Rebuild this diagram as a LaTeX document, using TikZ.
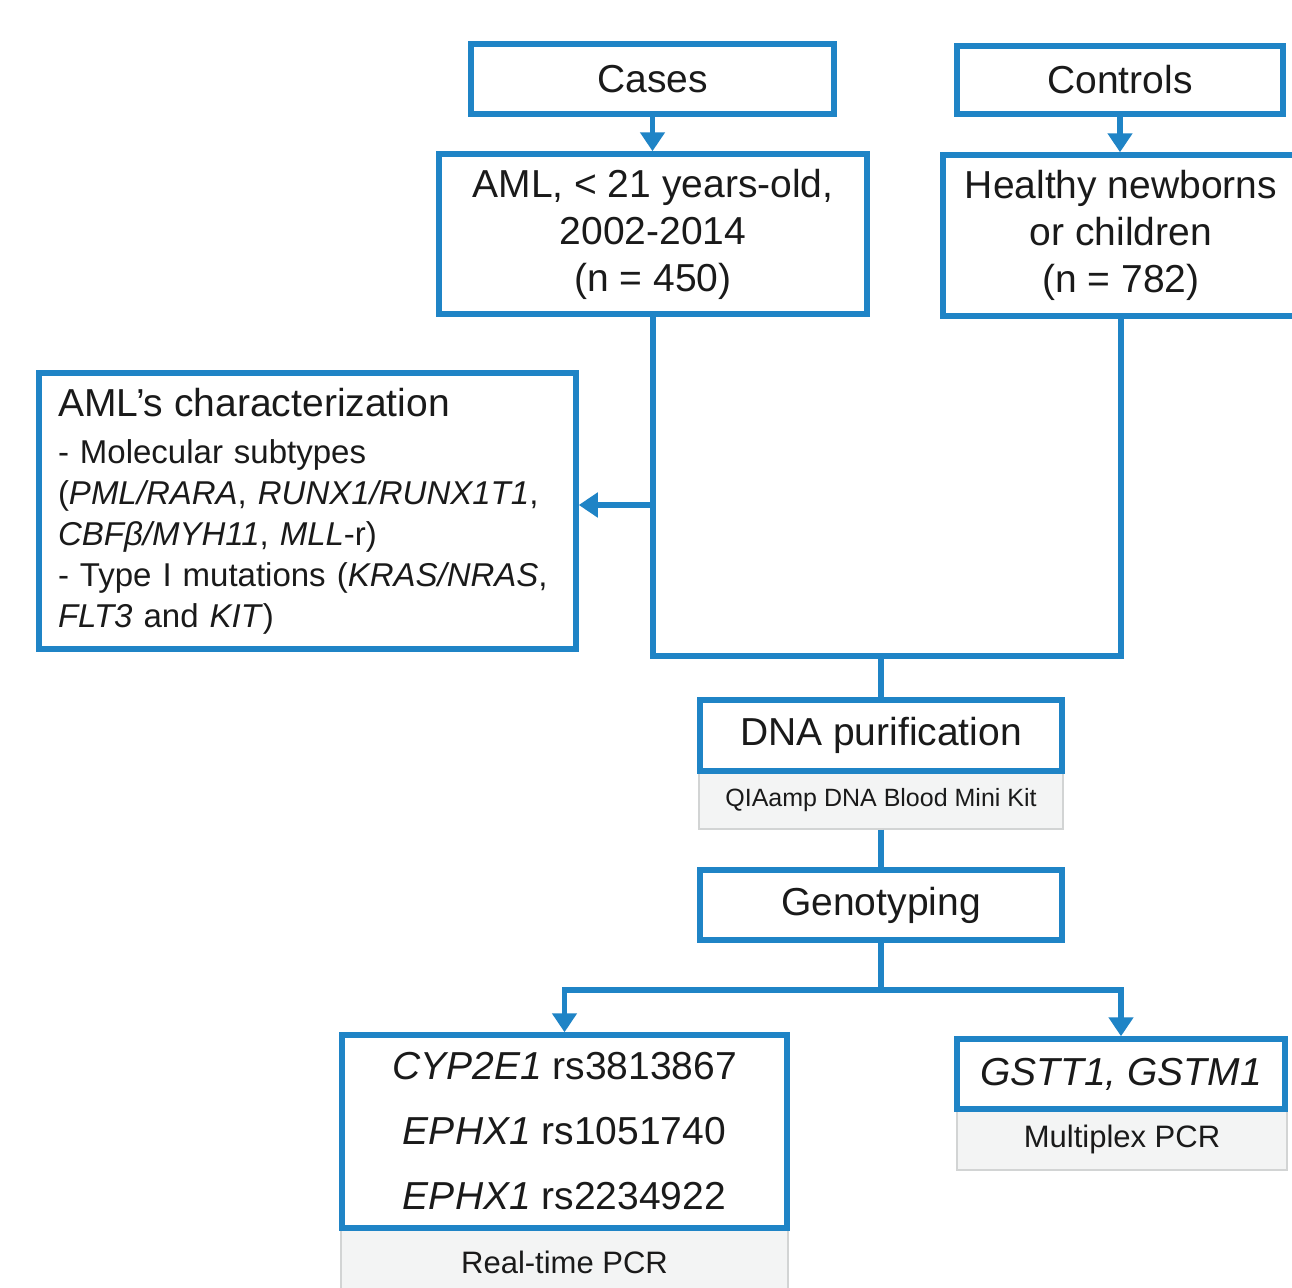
\documentclass[tikz,border=0pt]{standalone}
\usepackage{fontspec}
\setmainfont{Liberation Sans}
\usetikzlibrary{arrows.meta,calc}
\definecolor{blu}{HTML}{1F84C6}
\definecolor{subfill}{HTML}{F3F4F4}
\definecolor{subdraw}{HTML}{D2D4D4}
\definecolor{txt}{HTML}{1A1A1A}
\begin{document}
\begin{tikzpicture}[x=1pt,y=-1pt,
  box/.style={draw=blu, line width=5.5pt, fill=white, inner sep=0pt, align=center, text=txt, font=\fontsize{39}{47}\selectfont},
  sub/.style={draw=subdraw, line width=1.2pt, fill=subfill, inner sep=0pt, text=txt},
  conn/.style={draw=blu, line width=5.5pt},
  arr/.style={conn, -{Triangle[width=24pt,length=19pt]}}]
\fill[white] (0,0) rectangle (1292,1287);
\useasboundingbox (0,0) rectangle (1292,1287);

% grey sub boxes
\node[sub, minimum width=364pt, minimum height=58pt, font=\fontsize{25}{30}\selectfont] (dnasub) at (881,800) {QIAamp DNA Blood Mini Kit};
\node[sub, minimum width=447pt, minimum height=68pt, font=\fontsize{31}{37}\selectfont] (cypsub) at (564.5,1262) {Real-time PCR};
\node[sub, minimum width=330pt, minimum height=61pt, font=\fontsize{31}{37}\selectfont] (gstsub) at (1122,1139.5) {Multiplex PCR};

% main boxes
\node[box, minimum width=363pt, minimum height=70pt] (cases) at (652.5,79) {Cases};
\node[box, minimum width=326pt, minimum height=68pt] (controls) at (1120,80) {Controls};
\node[box, minimum width=428pt, minimum height=160pt] (aml) at (653,234) {AML, < 21 years-old,\\2002-2014\\(n = 450)};
\node[box, minimum width=356pt, minimum height=161pt] (healthy) at (1121,235.5) {Healthy newborns\\or children\\(n = 782)};
\node[box, minimum width=537pt, minimum height=276pt, text width=499pt, inner xsep=19pt, align=left, font=\fontsize{33}{41}\selectfont] (char) at (307.5,511)
  {{\fontsize{39}{41}\selectfont AML's characterization}\\[6pt]
   - Molecular subtypes\\
   (\textit{PML/RARA}, \textit{RUNX1/RUNX1T1},\\
   \textit{CBFβ/MYH11}, \textit{MLL}-r)\\
   - Type I mutations (\textit{KRAS/NRAS},\\
   \textit{FLT3} and \textit{KIT})};
\node[box, minimum width=362pt, minimum height=71pt] (dna) at (881,735.5) {DNA purification};
\node[box, minimum width=362pt, minimum height=70pt] (geno) at (881,905) {Genotyping};
\node[box, minimum width=445pt, minimum height=193pt, font=\fontsize{39}{65}\selectfont] (cyp) at (564.5,1131.5)
  {\textit{CYP2E1} rs3813867\\\textit{EPHX1} rs1051740\\\textit{EPHX1} rs2234922};
\node[box, minimum width=328pt, minimum height=70pt] (gst) at (1121,1074) {\textit{GSTT1, GSTM1}};

% connectors
\coordinate (j1) at (881,656);
\coordinate (j2) at (881,990);
\coordinate (lvl) at (0,505);
\draw[arr] (cases.south) -- (cases.south |- aml.north);
\draw[arr] (controls.south) -- (controls.south |- healthy.north);
\draw[conn] (aml.south) |- (j1) -| (healthy.south);
\draw[arr] (aml.south |- lvl) -- (char.east |- lvl);
\draw[conn] (j1) -- (j1 |- dna.north);
\draw[conn] (dnasub.south) -- (geno.north);
\draw[conn] (geno.south) -- (j2);
\draw[arr] (j2) -| (cyp.north);
\draw[arr] (j2) -| (gst.north);
\end{tikzpicture}
\end{document}
